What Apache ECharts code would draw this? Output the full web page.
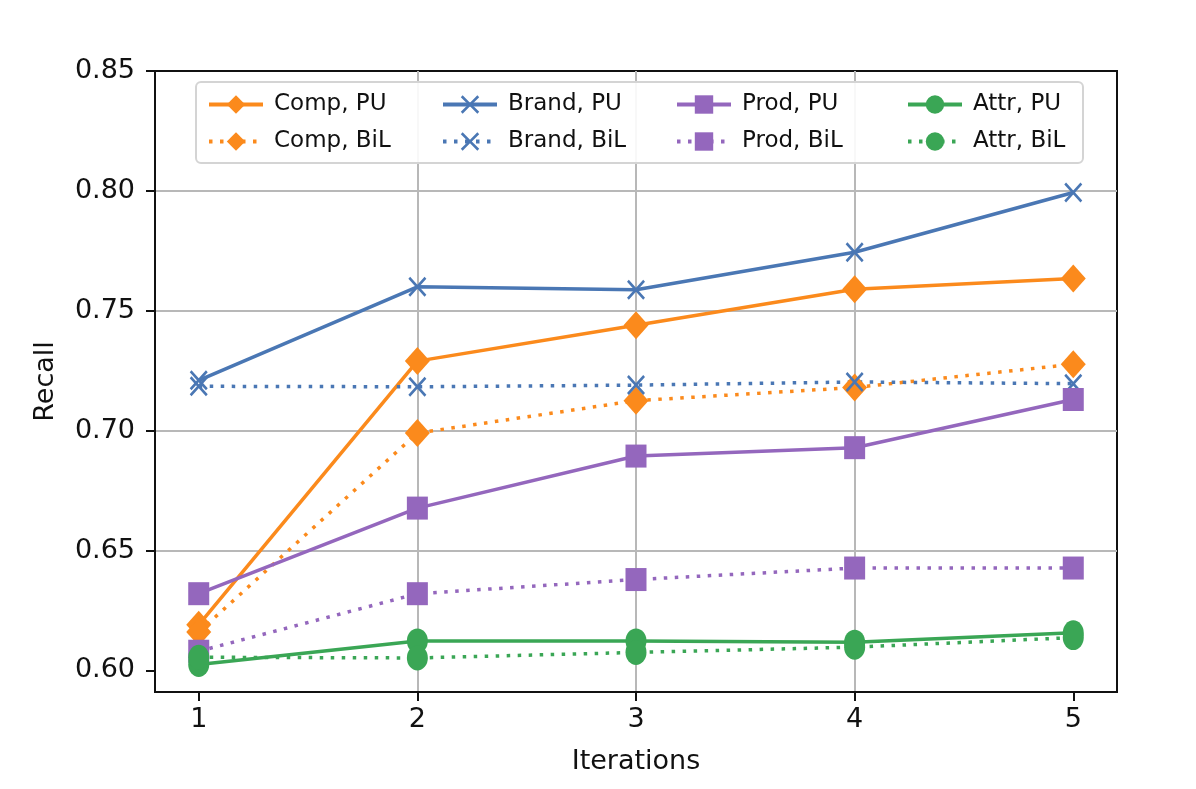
<!DOCTYPE html>
<html>
<head>
<meta charset="utf-8">
<script src="https://cdn.jsdelivr.net/npm/echarts@6/dist/echarts.min.js"></script>
<style>
  html, body { margin: 0; padding: 0; background: #fff; }
  #chart_1 { width: 1196px; height: 789px; }
</style>
</head>
<body>
<div id="chart_1"></div>
<script>
// data
var iterations = [1, 2, 3, 4, 5];
var xTicks = [1, 2, 3, 4, 5];
var yTicks = [0.60, 0.65, 0.70, 0.75, 0.80, 0.85];

var compPU   = [0.619, 0.729, 0.744, 0.759, 0.7635];
var compBiL  = [0.616, 0.699, 0.7125, 0.718, 0.7277];
var brandPU  = [0.721, 0.760, 0.7588, 0.7744, 0.7993];
var brandBiL = [0.7185, 0.7183, 0.719, 0.7203, 0.7196];
var prodPU   = [0.632, 0.6677, 0.6894, 0.6929, 0.713];
var prodBiL  = [0.608, 0.632, 0.6379, 0.6427, 0.6427];
var attrPU   = [0.6025, 0.6123, 0.6123, 0.6118, 0.6157];
var attrBiL  = [0.6055, 0.6052, 0.6075, 0.6097, 0.6137];

var FONT = 'DejaVu Sans';
var cOrange = '#fb8a1c', cBlue = '#4a77b4', cPurple = '#9467bd', cGreen = '#3aa655';
var xMark = 'path://M0,1 L1,0 L5,4 L9,0 L10,1 L6,5 L10,9 L9,10 L5,6 L1,10 L0,9 L4,5 Z';

function pairs(vals) {
    var out = [];
    for (var i = 0; i < iterations.length; i++) {
        out.push([iterations[i], vals[i]]);
    }
    return out;
}

function mkSeries(name, vals, color, symbol, size, dotted) {
    return {
        name: name,
        type: 'line',
        data: pairs(vals),
        symbol: symbol,
        symbolSize: size,
        showAllSymbol: true,
        clip: false,
        itemStyle: { color: color },
        lineStyle: { color: color, width: 3.5, type: dotted ? [3.5, 7.5] : 'solid' },
        emphasis: { disabled: true },
        animation: false
    };
}

function mkLegend(left, names) {
    return {
        orient: 'vertical',
        left: left,
        top: 88,
        itemWidth: 54,
        itemHeight: 23,
        itemGap: 14,
        data: names,
        lineStyle: { width: 4 },
        textStyle: { fontFamily: FONT, fontSize: 23, color: '#111', padding: [0, 0, 0, 6] }
    };
}

var myChart = echarts.init(document.getElementById('chart_1'));
myChart.setOption({
    backgroundColor: '#fff',
    animation: false,
    grid: {
        left: 155, top: 71, right: 79, bottom: 97,
        show: true, borderColor: '#111', borderWidth: 2, backgroundColor: '#fff'
    },
    xAxis: {
        type: 'value',
        min: 0.8,
        max: 5.2,
        splitNumber: 4,
        name: 'Iterations',
        nameLocation: 'middle',
        nameGap: 56,
        nameTextStyle: { fontFamily: FONT, fontSize: 27, color: '#111' },
        axisLine: { show: true, lineStyle: { color: '#111', width: 2 } },
        axisTick: { show: true, length: 9, customValues: xTicks, lineStyle: { color: '#111', width: 2 } },
        axisLabel: {
            customValues: xTicks,
            margin: 14,
            fontFamily: FONT, fontSize: 27, color: '#111',
            formatter: function (v) { return Math.abs(v - Math.round(v)) < 1e-6 ? String(Math.round(v)) : ''; }
        },
        splitLine: { show: true, showMinLine: false, showMaxLine: false, lineStyle: { color: '#b8b8b8', width: 2 } }
    },
    yAxis: {
        type: 'value',
        min: 0.591,
        max: 0.85,
        splitNumber: 5,
        name: 'Recall',
        nameLocation: 'middle',
        nameGap: 96,
        nameTextStyle: { fontFamily: FONT, fontSize: 27, color: '#111' },
        axisLine: { show: true, lineStyle: { color: '#111', width: 2 } },
        axisTick: { show: true, length: 9, customValues: yTicks, lineStyle: { color: '#111', width: 2 } },
        axisLabel: {
            customValues: yTicks,
            margin: 20,
            fontFamily: FONT, fontSize: 27, color: '#111',
            formatter: function (v) {
                var r = Math.round(v * 20) / 20;
                return Math.abs(v - r) < 1e-6 ? r.toFixed(2) : '';
            }
        },
        splitLine: { show: true, showMinLine: false, showMaxLine: false, lineStyle: { color: '#b8b8b8', width: 2 } }
    },
    graphic: [{
        type: 'rect',
        z: 3,
        shape: { x: 196, y: 82, width: 887, height: 81, r: 5 },
        style: { fill: 'rgba(255,255,255,0.9)', stroke: '#d4d4d4', lineWidth: 2 }
    }],
    legend: [
        mkLegend(202, ['Comp, PU', 'Comp, BiL']),
        mkLegend(436, ['Brand, PU', 'Brand, BiL']),
        mkLegend(670, ['Prod, PU', 'Prod, BiL']),
        mkLegend(901, ['Attr, PU', 'Attr, BiL'])
    ],
    series: [
        mkSeries('Comp, PU', compPU, cOrange, 'diamond', [25, 28], false),
        mkSeries('Comp, BiL', compBiL, cOrange, 'diamond', [25, 28], true),
        mkSeries('Brand, PU', brandPU, cBlue, xMark, [18, 20], false),
        mkSeries('Brand, BiL', brandBiL, cBlue, xMark, [18, 20], true),
        mkSeries('Prod, PU', prodPU, cPurple, 'rect', [21, 23], false),
        mkSeries('Prod, BiL', prodBiL, cPurple, 'rect', [21, 23], true),
        mkSeries('Attr, PU', attrPU, cGreen, 'circle', [21, 25], false),
        mkSeries('Attr, BiL', attrBiL, cGreen, 'circle', [21, 25], true)
    ]
});
</script>
</body>
</html>
